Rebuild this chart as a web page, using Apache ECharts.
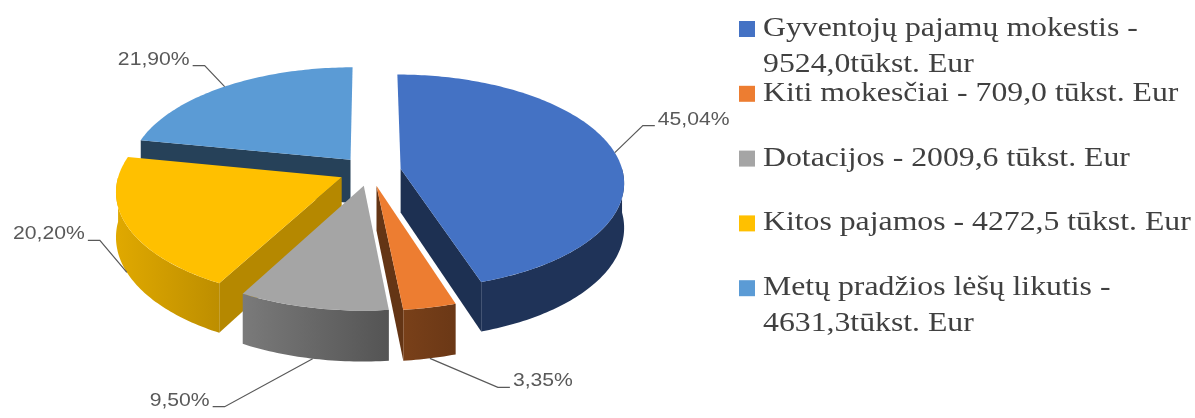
<!DOCTYPE html>
<html>
<head>
<meta charset="utf-8">
<script src="https://cdn.jsdelivr.net/npm/echarts@6/dist/echarts.min.js"></script>
<style>
  html, body { margin: 0; padding: 0; background: #fff; }
  #main { width: 1195px; height: 418px; }
</style>
</head>
<body>
<div id="main"></div>
<script>
// data
var categories = ['Gyventojų pajamų mokestis', 'Kiti mokesčiai', 'Dotacijos', 'Kitos pajamos', 'Metų pradžios lėšų likutis'];
var values = [9524.0, 709.0, 2009.6, 4272.5, 4631.3];
var legendLabels = [
  'Gyventojų pajamų mokestis -\n9524,0tūkst. Eur',
  'Kiti mokesčiai - 709,0 tūkst. Eur',
  'Dotacijos - 2009,6 tūkst. Eur',
  'Kitos pajamos - 4272,5 tūkst. Eur',
  'Metų pradžios lėšų likutis -\n4631,3tūkst. Eur'
];
var colors = ['#4472C4', '#ED7D31', '#A5A5A5', '#FFC000', '#5B9BD5'];

// layout of the tilted pie
var CX = 370, CY = 171, RX = 222, RY = 106, PERSP = 0.12, EXPLODE = 0.14, DEPTH = 44;
var STRETCH = 1.176; // text in the picture is drawn wide
// leader line elbows, relative to the anchor on each slice
var labelElbows = [[28, -27], [68, 29], [-88, 48], [-27, -32], [-20, -21]];

var total = values.reduce(function (s, v) { return s + v; }, 0);
var startAngles = [], endAngles = [];
var acc = 0;
values.forEach(function (v) {
  startAngles.push(acc / total * 360);
  acc += v;
  endAngles.push(acc / total * 360);
});

function rad(d) { return d * Math.PI / 180; }
// u,v on the pie plane (v > 0 is toward the viewer), z = 0 top, 1 bottom
function project(u, v, z) {
  var s = 1 / (1 - PERSP * v);
  return [CX + RX * u * s, CY + (RY * v + DEPTH * z) * s];
}
function shade(hex, f) {
  var n = parseInt(hex.slice(1), 16);
  var r = Math.round(((n >> 16) & 255) * f);
  var g = Math.round(((n >> 8) & 255) * f);
  var b = Math.round((n & 255) * f);
  return 'rgb(' + r + ',' + g + ',' + b + ')';
}
function wallFactor(deg) {
  return Math.max(0.45, Math.min(0.88, 0.55 - 0.4 * Math.sin(rad(deg))));
}

function renderSlice(params, api) {
  var i = params.dataIndex;
  var a = startAngles[i], b = endAngles[i], mid = (a + b) / 2;
  var ou = EXPLODE * Math.sin(rad(mid)), ov = -EXPLODE * Math.cos(rad(mid));
  var color = colors[i];
  var order = Math.round(ov * 100);

  function pt(deg, r, z) {
    return project(ou + r * Math.sin(rad(deg)), ov - r * Math.cos(rad(deg)), z);
  }
  function arc(from, to, z) {
    var pts = [];
    var n = Math.max(2, Math.ceil(Math.abs(to - from)));
    for (var k = 0; k <= n; k++) pts.push(pt(from + (to - from) * k / n, 1, z));
    return pts;
  }
  function cutFace(deg, nx) {
    var f = 0.42 + 0.33 * Math.max(0, nx);
    return {
      type: 'polygon', z2: 10 + order,
      shape: { points: [pt(deg, 0, 0), pt(deg, 1, 0), pt(deg, 1, 1), pt(deg, 0, 1)] },
      style: { fill: shade(color, f) }
    };
  }

  var children = [];
  // outer wall, front half only
  var w0 = Math.max(a, 90), w1 = Math.min(b, 270);
  if (w1 > w0) {
    children.push({
      type: 'polygon', z2: 30 + order,
      shape: { points: arc(w0, w1, 0).concat(arc(w1, w0, 1)) },
      style: {
        fill: new echarts.graphic.LinearGradient(0, 0, 1, 0, [
          { offset: 0, color: shade(color, wallFactor(w1)) },
          { offset: 1, color: shade(color, wallFactor(w0)) }
        ])
      }
    });
  }
  // cut faces that face the viewer
  if (Math.sin(rad(a)) < -1e-6) children.push(cutFace(a, -Math.cos(rad(a))));
  if (Math.sin(rad(b)) > 1e-6) children.push(cutFace(b, Math.cos(rad(b))));
  // top face
  children.push({
    type: 'polygon', z2: 300,
    shape: { points: [pt(a, 0, 0)].concat(arc(a, b, 0)) },
    style: { fill: color }
  });

  // percent label with leader line
  var front = -Math.cos(rad(mid)) > 0;
  var anchor = pt(mid, 1, front ? 1 : 0);
  var off = labelElbows[i];
  var elbow = [anchor[0] + off[0], anchor[1] + off[1]];
  var dir = off[0] >= 0 ? 1 : -1;
  var end = [elbow[0] + dir * 12, elbow[1]];
  var pct = (api.value(0) / total * 100).toFixed(2).replace('.', ',') + '%';
  children.push({
    type: 'polyline', z2: 400,
    shape: { points: [anchor, elbow, end] },
    style: { stroke: '#595959', lineWidth: 1.2, fill: null }
  });
  children.push({
    type: 'text', z2: 401,
    x: end[0] + dir * 3, y: end[1] - 6, scaleX: STRETCH,
    style: {
      text: pct, fill: '#595959',
      fontSize: 18, fontFamily: '"Liberation Sans", Arial, sans-serif',
      align: dir > 0 ? 'left' : 'right', verticalAlign: 'middle'
    }
  });
  return { type: 'group', children: children };
}

// legend entries
var legendItems = [];
legendLabels.forEach(function (label, i) {
  var rowY = 29 + 64.8 * i;
  legendItems.push({
    type: 'rect', x: 739, y: rowY - 8,
    shape: { width: 16, height: 16 },
    style: { fill: colors[i] }
  });
  legendItems.push({
    type: 'text', x: 763, y: rowY - 18, scaleX: STRETCH,
    style: {
      text: label, fill: '#404040',
      fontSize: 27, fontFamily: '"Liberation Serif", "Times New Roman", serif',
      lineHeight: 36, verticalAlign: 'top', align: 'left'
    }
  });
});

var chart = echarts.init(document.getElementById('main'));
chart.setOption({
  backgroundColor: '#fff',
  animation: false,
  graphic: legendItems,
  series: [{
    type: 'custom',
    name: 'Pajamos',
    coordinateSystem: 'none',
    renderItem: renderSlice,
    data: values.map(function (v, i) { return { name: categories[i], value: v }; })
  }]
});
</script>
</body>
</html>
